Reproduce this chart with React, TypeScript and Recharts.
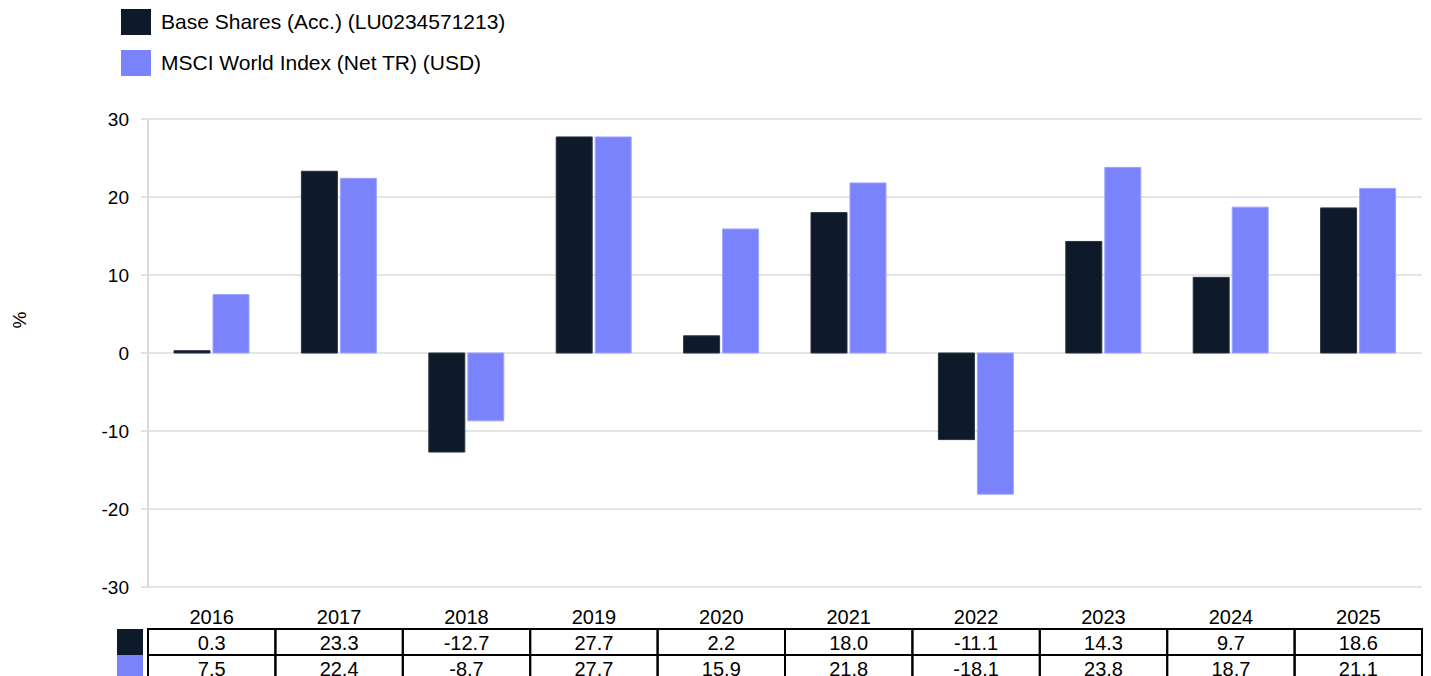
import React from 'react';
import { BarChart, Bar, XAxis, YAxis, CartesianGrid } from 'recharts';

const years = ['2016', '2017', '2018', '2019', '2020', '2021', '2022', '2023', '2024', '2025'];
const fundReturns = [0.3, 23.3, -12.7, 27.7, 2.2, 18.0, -11.1, 14.3, 9.7, 18.6];
const indexReturns = [7.5, 22.4, -8.7, 27.7, 15.9, 21.8, -18.1, 23.8, 18.7, 21.1];
const yTicks = [-30, -20, -10, 0, 10, 20, 30];
const seriesNames = ['Base Shares (Acc.) (LU0234571213)', 'MSCI World Index (Net TR) (USD)'];
const seriesColors = ['#0e1a29', '#7a83fc'];
const yAxisLabel = '%';

const data = years.map((year, i) => ({ year, fund: fundReturns[i], index: indexReturns[i] }));
const tableRows = [fundReturns, indexReturns];

const CHART_W = 1431;
const CHART_H = 676;
const MARGIN = { top: 119, right: 9, bottom: 0, left: 0 };
const Y_AXIS_W = 148;
const X_AXIS_H = 89;
const CELL_W = (CHART_W - MARGIN.left - MARGIN.right - Y_AXIS_W) / years.length;
const FONT = '"Liberation Sans", Arial, Helvetica, sans-serif';

function TableTick(props: any) {
  const { x, y, payload } = props;
  const i = years.indexOf(String(payload.value));
  const left = x - CELL_W / 2;
  return (
    <g>
      <text x={x} y={y + 30} textAnchor="middle" dominantBaseline="central" fontSize={20} fill="#000" fontFamily={FONT}>
        {payload.value}
      </text>
      {tableRows.map((vals, r) => {
        const top = y + 42 + r * 26;
        return (
          <g key={r}>
            {i === 0 && <rect x={left - 31} y={top} width={26} height={26} fill={seriesColors[r]} />}
            <rect x={left} y={top} width={CELL_W} height={26} fill="none" stroke="#000" strokeWidth={2} />
            <text x={x} y={top + 14} textAnchor="middle" dominantBaseline="central" fontSize={20} fill="#000" fontFamily={FONT}>
              {vals[i].toFixed(1)}
            </text>
          </g>
        );
      })}
    </g>
  );
}

function YLabel() {
  return (
    <text x={19} y={320} transform="rotate(-90, 19, 320)" textAnchor="middle" dominantBaseline="central" fontSize={19} fill="#000" fontFamily={FONT}>
      {yAxisLabel}
    </text>
  );
}

export default function App() {
  return (
    <div style={{ position: 'absolute', left: 0, top: 0, width: CHART_W, height: CHART_H, fontFamily: FONT, background: '#fff', overflow: 'hidden' }}>
      <BarChart width={CHART_W} height={CHART_H} data={data} margin={MARGIN} barSize={36} barGap={3}>
        <CartesianGrid vertical={false} stroke="#dcdcdc" strokeWidth={1.5} />
        <YAxis
          width={Y_AXIS_W}
          domain={[-30, 30]}
          ticks={yTicks}
          interval={0}
          tickSize={7}
          tickMargin={12}
          axisLine={{ stroke: '#d9d9d9', strokeWidth: 2 }}
          tickLine={{ stroke: '#d9d9d9', strokeWidth: 1.5 }}
          tick={{ fill: '#000', fontSize: 19, fontFamily: FONT }}
          label={<YLabel />}
        />
        <XAxis
          dataKey="year"
          height={X_AXIS_H}
          interval={0}
          tickSize={0}
          tickMargin={0}
          axisLine={false}
          tickLine={false}
          tick={<TableTick />}
        />
        <Bar dataKey="fund" name={seriesNames[0]} fill={seriesColors[0]} stroke="#2a3542" strokeWidth={1} isAnimationActive={false} />
        <Bar dataKey="index" name={seriesNames[1]} fill={seriesColors[1]} stroke="#9ea4ff" strokeWidth={1} isAnimationActive={false} />
      </BarChart>
      {seriesNames.map((name, i) => (
        <div key={name} style={{ position: 'absolute', left: 121, top: 9 + i * 41, height: 26, display: 'flex', alignItems: 'center' }}>
          <div style={{ width: 30, height: 26, background: seriesColors[i] }} />
          <span style={{ marginLeft: 10, fontSize: 21, lineHeight: '26px', color: '#000', whiteSpace: 'nowrap' }}>{name}</span>
        </div>
      ))}
    </div>
  );
}
